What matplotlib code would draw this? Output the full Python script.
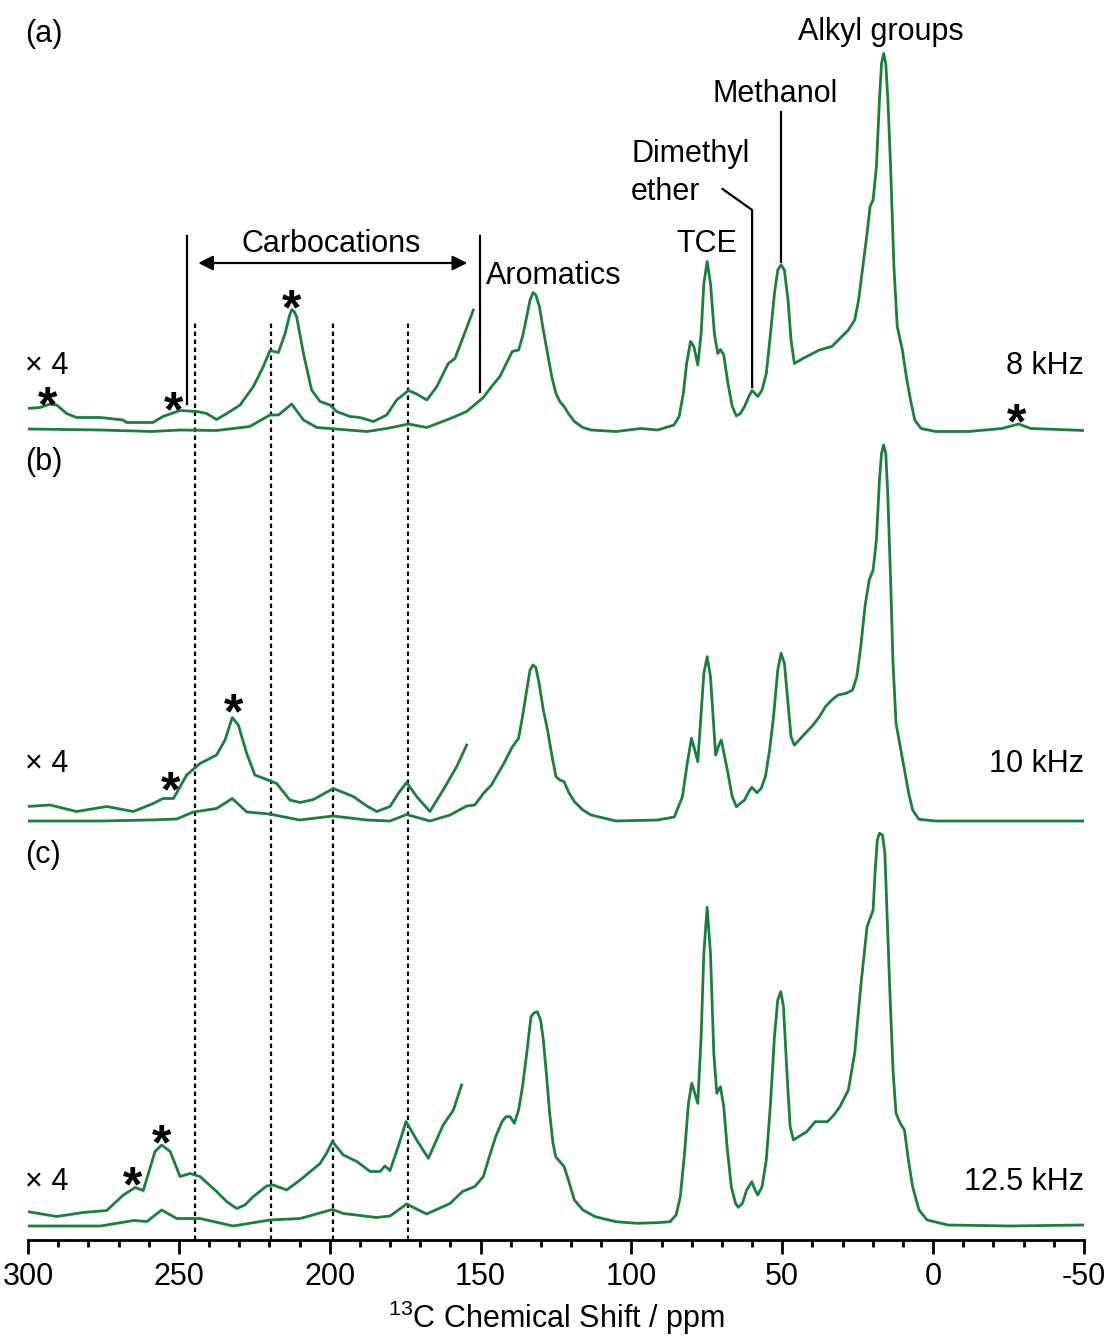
import matplotlib
matplotlib.use('Agg')
import matplotlib.pyplot as plt

plt.rcParams['font.family'] = ['Liberation Sans', 'DejaVu Sans']
plt.rcParams['mathtext.fontset'] = 'custom'
plt.rcParams['mathtext.rm'] = 'Liberation Sans'

GREEN = '#1b7f3e'

# ---- spectrum (a) 8 kHz : ppm / intensity (a.u.) ----
a_ppm = [300, 276, 259, 249.6, 237.5, 226.5, 219.8, 217, 212.6, 208.7, 204.3, 187.7, 181.1, 173.9,
         167.8, 160, 154.6, 149.1, 146.4, 143.6, 140.9, 139.5, 137.4, 136.1, 134.7, 133.6, 132.6,
         131.7, 130.5, 129.2, 127.8, 126.4, 125, 123.7, 122.3, 120.9, 118.9, 116.1, 113.4, 105.1,
         96.9, 91.3, 85.9, 84.2, 82.8, 81.7, 80.4, 79.3, 78.0, 76.9, 76.0, 74.9, 73.8, 72.5, 71.4,
         70.5, 69.4, 68.0, 66.6, 65.2, 63.9, 62.5, 61.1, 60.0, 58.1, 56.7, 55.3, 53.9, 52.6, 51.5,
         50.4, 49.3, 48.1, 47.1, 46.0, 43.2, 37.7, 33.6, 28.1, 26.0, 24.7, 23.3, 21.9, 20.9, 19.9,
         18.8, 17.8, 17.1, 16.4, 15.7, 15.0, 14.1, 13.0, 11.9, 10.2, 8.9, 7.5, 6.1, 4.0, -0.8, -11.8,
         -22.8, -28.3, -32.4, -50]
a_int = [2.5, 1.5, 0, 1.5, 1, 5, 16.5, 16.5, 27.5, 11.5, 4, 0, 3, 7.5,
         4, 13, 20, 34, 44.8, 55, 71.5, 80, 81.5, 94.8, 115, 131.5, 139,
         136.5, 125, 101.5, 78, 54.8, 38, 29.8, 25, 18, 10, 4, 1.5, 0,
         3, 1.5, 6.5, 15, 38, 68, 90, 85, 66.5, 98, 148, 170, 148, 98, 78,
         82, 76.5, 48, 25, 15.5, 18, 25, 35, 41, 35, 41.5, 58, 98, 138, 161.5,
         166.5, 161.5, 131.5, 91.5, 68, 73, 81.5, 85, 101.5, 111.5, 131.5, 165, 198, 225, 231.5,
         265, 331.5, 368, 378, 368, 331.5, 265, 165, 105, 81.5, 55, 31.5, 11.5, 3, 0, 0,
         3, 7.5, 3, 1]
a_x4_ppm = [300.4, 296, 292.7, 290.5, 287.2, 283.9, 276, 268.5, 267.3, 258.6, 255.3, 249.6, 244,
            240.8, 237.5, 234.1, 229.7, 225.3, 222, 219.8, 217, 214.8, 213.3, 212.6, 211.8, 211,
            208.7, 206, 203.2, 199.9, 197.7, 193.3, 190, 185.5, 181.1, 177.8, 173.9, 171.2, 167.8,
            164.5, 160.7, 158.5, 155.7, 152.4]
a_x4_int = [23, 24, 27.5, 26.5, 18, 14, 14, 11.5, 9, 9, 15, 21, 20,
            18, 12, 18, 26.5, 45, 65, 81, 79, 98, 116, 122, 120, 115,
            78, 41.5, 30, 26.5, 20, 15, 14, 10, 16.5, 31.5, 41, 37.5, 31.5,
            45, 68, 73, 95, 121.5]

# ---- spectrum (b) 10 kHz ----
b_ppm = [300.4, 276, 259.6, 250.7, 245.2, 237.5, 232.3, 227.5, 220, 210, 198.9, 187.7, 180, 174.5,
         166.8, 160.1, 154.6, 151.9, 149.1, 146.4, 142.3, 139.5, 137.4, 136.1, 134.7, 133.6, 132.6,
         131.7, 130.6, 129.2, 127.8, 126.4, 125, 123.7, 122.3, 120.9, 118.9, 116.1, 113.4, 105.1,
         91.3, 85.8, 83.1, 81.5, 80.1, 79.0, 78.0, 76.9, 76.0, 74.9, 73.8, 72.1, 71.0, 70.2, 69.1,
         68.0, 66.6, 65.2, 63.9, 62.5, 61.1, 60.1, 58.4, 57.0, 55.6, 54.2, 52.9, 51.5, 50.4, 49.3,
         48.1, 47.1, 46.0, 43.9, 41.9, 39.8, 37.7, 35.7, 33.6, 31.5, 28.8, 26.7, 25.3, 24.0, 22.6,
         21.2, 19.9, 18.8, 17.8, 17.1, 16.4, 15.7, 15.0, 14.1, 13.3, 12.3, 10.9, 9.5, 8.1, 6.8, 4.7,
         -0.8, -50]
b_int = [0, 0, 1, 2, 9, 12.5, 22.5, 9, 7, 1, 5, 1, 0, 6.5,
         0, 6, 15, 16, 27.5, 36, 57.5, 74, 82.7, 104.3, 131, 151, 156,
         153.7, 137.7, 111, 91, 66, 44.3, 41, 39.3, 29.3, 19.3, 11, 6, 0,
         1, 4, 24.3, 57.7, 82.7, 71, 59.3, 107.7, 147.7, 164.3, 144.3, 66, 76, 81, 64.3,
         47.7, 24.3, 14.3, 17.7, 21, 29.3, 33.7, 28.3, 32.7, 44.3, 71, 104.3, 151, 167.7, 157.7,
         117.7, 84.3, 76, 82.7, 89.3, 96, 104.3, 114.3, 121, 126, 127.7, 131, 144.3, 174.3, 214.3,
         241, 251, 281, 341, 367.7, 376, 367.7, 324.3, 241, 157.7, 97.7, 74.3, 51, 27.7, 11, 1.7,
         0, 0]
b_x4_ppm = [300.4, 292.7, 283.9, 273.9, 265.1, 258.5, 255.2, 251.8, 247.4, 243, 237.5, 234.7, 232.3,
            230.3, 227.5, 224.8, 220.9, 217.6, 213.2, 209.8, 205.4, 198.8, 192.2, 187.7, 184.4, 180,
            177.3, 174.5, 171.2, 166.8, 162.4, 157.9, 154.6]
b_x4_int = [14.5, 16, 9.5, 14.5, 9.5, 17.5, 22.5, 22.5, 46, 57.5, 66, 81, 103.5,
            96, 67.5, 46, 41.5, 37.5, 21, 18.5, 21.5, 32.5, 24.5, 15, 9.5, 14.5,
            27.5, 38.5, 24.5, 9.5, 31, 54.5, 76]

# ---- spectrum (c) 12.5 kHz ----
c_ppm = [300.4, 276, 265, 260.6, 255.7, 250.7, 243, 232, 219.8, 209.8, 199.1, 195.5, 184.4, 180,
         174.5, 167.9, 160.1, 156, 151.9, 149.1, 147.1, 145, 142.9, 141.6, 140.2, 138.8, 137.4,
         136.1, 134.7, 133.3, 132.2, 131.2, 130.1, 129.2, 128.2, 127.1, 126.0, 125.1, 123.7, 122.3,
         120.9, 118.9, 116.1, 112, 105.1, 98.2, 91.4, 87.2, 85.2, 83.8, 82.4, 81.1, 80.0, 79.0, 78.0,
         76.9, 76.0, 74.9, 73.8, 72.7, 71.7, 70.5, 69.4, 68.3, 66.9, 65.5, 64.6, 63.2, 61.8, 60.1,
         59.0, 58.1, 56.7, 55.3, 53.9, 52.6, 51.5, 50.5, 49.6, 48.5, 47.4, 46.3, 44.6, 41.9, 39.1,
         35.0, 32.9, 30.9, 28.1, 26.0, 24.0, 21.9, 19.9, 19.2, 18.5, 17.8, 16.8, 16.0, 15.2, 14.4,
         13.3, 12.3, 10.9, 9.5, 8.2, 6.8, 4.7, 2.0, -4.9, -25.6, -49.6]
c_int = [0, 0, 5.5, 4.5, 16, 7.5, 7.5, 0, 6, 7.5, 16.5, 12.5, 8.5, 10,
         22, 12, 22.5, 34.5, 39.5, 49.3, 69.3, 89.3, 104.3, 109.3, 109.3, 102.7, 116,
         139.3, 172.7, 209.3, 213.3, 214.3, 206, 186, 152.7, 112.7, 82.7, 69.3, 64.3, 59.3,
         46, 26, 16, 9.3, 4.3, 2.7, 3.3, 4.3, 11, 29.3, 72.7, 122.7, 142.7, 132.7, 122.7,
         189.3, 272.7, 318.7, 272.7, 172.7, 132.7, 139.3, 119.3, 79.3, 39.3, 22.7, 18.7, 22.7, 36, 44.3,
         36, 31, 39.3, 66, 122.7, 189.3, 226, 234.3, 219.3, 156, 99.3, 86, 89.3, 94.3, 104.3,
         104.3, 111, 119.3, 136, 172.7, 239.3, 299.3, 316, 356, 386, 392.7, 391, 372.7, 306, 239.3,
         156, 112.7, 102.7, 96, 66, 39.3, 16, 6, 1, 0, 1]
c_x4_ppm = [300.4, 290.5, 281.7, 273.9, 268.4, 264.5, 261.8, 257.9, 255.7, 252.9, 249.6, 246.3, 243,
            237.5, 234.1, 230.8, 228.1, 225.3, 220.9, 218.7, 214.3, 209.8, 203.2, 201.0, 199.1, 195.5,
            191, 186.6, 183.3, 181.7, 180, 177.3, 174.7, 171.2, 167.3, 162.4, 159, 156.3]
c_x4_int = [14.5, 9.5, 13.5, 15.5, 31, 38.5, 35.5, 74.5, 81, 74.5, 49.5, 52.5, 49.5,
            34.5, 24.3, 17.5, 21, 29.5, 40, 41, 36, 46, 62.5, 73, 84.5, 71,
            64.5, 54.5, 54.5, 60, 55.5, 79.5, 104.5, 86, 67.7, 101, 116, 141]

offsets = [808.5, 419, 14]   # vertical stacking of (a), (b), (c)
carbocation_ppm = [244.7, 219.5, 198.9, 174.0]

fig = plt.figure(figsize=(11.04, 13.39), dpi=100)
ax = fig.add_axes([28 / 1104, 99 / 1339, 1056 / 1104, 1240 / 1339])

spectra = [(a_ppm, a_int, a_x4_ppm, a_x4_int), (b_ppm, b_int, b_x4_ppm, b_x4_int),
           (c_ppm, c_int, c_x4_ppm, c_x4_int)]
for (p, y, px4, yx4), off in zip(spectra, offsets):
    ax.plot(p, [v + off for v in y], color=GREEN, lw=2, solid_joinstyle='round')
    ax.plot(px4, [v + off for v in yx4], color=GREEN, lw=2, solid_joinstyle='round')

# dashed guide lines at carbocation shifts
for x in carbocation_ppm:
    ax.plot([x, x], [0, 917], color='black', lw=1.6, ls=(0, (2, 1.6)), zorder=0)

fs = 22
# panel letters, x4 and spinning rates
for lab, off in zip(['(a)', '(b)', '(c)'], [1206, 778, 385]):
    ax.text(301, off, lab, fontsize=fs, va='center', ha='left', clip_on=False)
for rate, yy in zip(['8 kHz', '10 kHz', '12.5 kHz'], [874, 476, 58]):
    ax.text(301, yy, '× 4', fontsize=fs, va='center', ha='left')
    ax.text(-50, yy, rate, fontsize=fs, va='center', ha='right')

# peak assignments
ax.text(17.3, 1208, 'Alkyl groups', fontsize=fs, ha='center', va='center')
ax.text(52.4, 1146, 'Methanol', fontsize=fs, ha='center', va='center')
ax.plot([50.4, 50.4], [1128, 978], color='black', lw=1.6)
ax.text(100.1, 1086, 'Dimethyl', fontsize=fs, ha='left', va='center')
ax.text(100.1, 1048, 'ether', fontsize=fs, ha='left', va='center')
ax.plot([69.8, 60.0, 60.0], [1051, 1030, 853], color='black', lw=1.6)
ax.text(74.9, 996, 'TCE', fontsize=fs, ha='center', va='center')
ax.text(148.2, 964, 'Aromatics', fontsize=fs, ha='left', va='center')
ax.text(199.6, 996, 'Carbocations', fontsize=fs, ha='center', va='center')
ax.plot([247.4, 247.4], [1004, 836], color='black', lw=1.6)
ax.plot([150.2, 150.2], [1004, 848], color='black', lw=1.6)
ax.annotate('', xy=(153.5, 977), xytext=(244.5, 977),
            arrowprops=dict(arrowstyle='<|-|>', color='black', lw=1.6, mutation_scale=22))

# spinning sidebands
stars = [(293.4, 848), (251.6, 843), (212.8, 945), (-27.8, 831),
         (252.6, 463), (232.0, 541), (265.2, 68), (255.6, 110)]
for sx, sy in stars:
    ax.text(sx, sy - 16, '*', fontsize=36, fontweight='bold', ha='center', va='center')

ax.set_xlim(300, -50)
ax.set_ylim(0, 1240)
for s in ['left', 'top', 'right']:
    ax.spines[s].set_visible(False)
ax.spines['bottom'].set_linewidth(2)
ax.set_yticks([])
ax.set_xticks(range(300, -51, -50))
ax.set_xticklabels(['300', '250', '200', '150', '100', '50', '0', '-50'])
ax.set_xticks(range(300, -51, -10), minor=True)
ax.tick_params(axis='x', which='major', length=10, width=2, labelsize=fs, pad=6)
ax.tick_params(axis='x', which='minor', length=5, width=2)
ax.set_xlabel('$^{13}$C Chemical Shift / ppm', fontsize=fs, labelpad=5)

plt.savefig('out.png', dpi=100)
